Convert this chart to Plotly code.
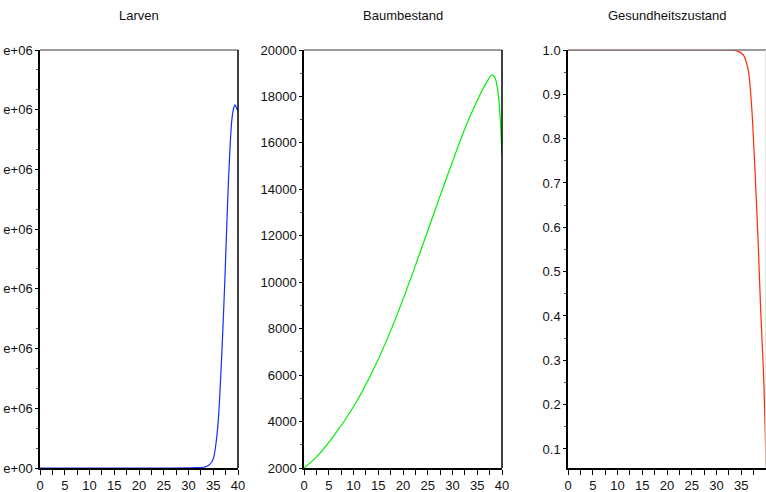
import plotly.graph_objects as go

# Zeitachse (Jahre) und Zustandsgrößen der Simulation
t_larven = [0, 25, 30, 32, 33, 33.7, 34.3, 35.0, 35.5, 36.0, 36.7, 37.4, 38.0, 38.7, 39.1, 39.4, 39.7, 40]
larven = [0, 0, 2e3, 5e3, 1.2e4, 3e4, 6e4, 1.5e5, 3.8e5, 7.8e5, 1.86e6, 3.27e6, 4.66e6, 5.78e6, 6.02e6, 6.08e6, 6.03e6, 5.98e6]

t_baum = [0, 2.6, 5.9, 10, 13.3, 16.7, 19.4, 22.1, 24.8, 27.5, 30.2, 32.9, 35.6, 37.0, 37.9, 38.5, 38.9, 39.3, 39.6, 39.8, 40]
baum = [2000, 2490, 3348, 4640, 5932, 7496, 8927, 10480, 12100, 13720, 15313, 16825, 18094, 18650, 18923, 18850, 18565, 18000, 17200, 16400, 15500]

t_ges = [0, 30, 33, 34.1, 35.4, 36.4, 37.1, 37.8, 38.4, 38.9, 39.5, 39.8, 40]
gesundheit = [1.0, 1.0, 0.9995, 0.998, 0.989, 0.955, 0.872, 0.722, 0.571, 0.42, 0.27, 0.158, 0.06]

titles = ["Larven", "Baumbestand", "Gesundheitszustand"]

larven_ticks = [0, 1e6, 2e6, 3e6, 4e6, 5e6, 6e6, 7e6]
larven_ticktext = ["e+00"] + ["e+06"] * 7
baum_ticks = list(range(2000, 20001, 2000))
baum_ticktext = [str(v) for v in baum_ticks]
ges_ticks = [0.1, 0.2, 0.3, 0.4, 0.5, 0.6, 0.7, 0.8, 0.9, 1.0]
ges_ticktext = ["0.1", "0.2", "0.3", "0.4", "0.5", "0.6", "0.7", "0.8", "0.9", "1.0"]
x_ticks = [0, 5, 10, 15, 20, 25, 30, 35, 40]
x_ticks_last = [0, 5, 10, 15, 20, 25, 30, 35]

W, H = 766, 492
FONT = "Liberation Sans, Arial, Helvetica, sans-serif"

# Panel-Grenzen in Pixeln
panels = [(40, 238), (304, 502), (568, 766)]
top_px, bottom_px = 50, 468
ydom = [(H - bottom_px) / H, (H - top_px) / H]

fig = go.Figure()

fig.add_trace(go.Scatter(x=t_larven, y=larven, mode="lines", xaxis="x", yaxis="y",
                         line=dict(color="#1030ff", width=1.2, shape="spline", smoothing=0.8)))
fig.add_trace(go.Scatter(x=t_baum, y=baum, mode="lines", xaxis="x2", yaxis="y2",
                         line=dict(color="#00ee00", width=1.2, shape="spline", smoothing=0.8)))
fig.add_trace(go.Scatter(x=t_ges, y=gesundheit, mode="lines", xaxis="x3", yaxis="y3",
                         line=dict(color="#ff2a00", width=1.2, shape="spline", smoothing=0.8)))


def xaxis_cfg(i, dom, tickvals):
    return dict(
        domain=[dom[0] / W, dom[1] / W], anchor="y" if i == 1 else f"y{i}",
        range=[0, 40], tickmode="array", tickvals=tickvals,
        ticktext=[str(v) for v in tickvals],
        ticks="outside", ticklen=5, tickwidth=1, tickcolor="#000",
        showline=True, linecolor="#000", linewidth=1.5,
        showgrid=False, zeroline=False, fixedrange=True, automargin=False,
        tickfont=dict(family=FONT, size=13, color="#111"),
        minor=dict(tickvals=[2.5, 7.5, 12.5, 17.5, 22.5, 27.5, 32.5, 37.5],
                   ticks="outside", ticklen=5, tickcolor="#000", tickwidth=1),
    )


def yaxis_cfg(i, rng, tickvals, ticktext, minor_vals):
    return dict(
        domain=ydom, anchor="x" if i == 1 else f"x{i}",
        range=rng, tickmode="array", tickvals=tickvals, ticktext=ticktext,
        ticks="outside", ticklen=3, tickwidth=1, tickcolor="#000",
        showline=True, linecolor="#000", linewidth=1.5,
        showgrid=False, zeroline=False, fixedrange=True, automargin=False,
        tickfont=dict(family=FONT, size=13, color="#111"),
        minor=dict(tickvals=minor_vals, ticks="outside", ticklen=2,
                   tickcolor="#555", tickwidth=1),
    )


larven_minor = [k * 1e6 / 3 for k in range(22) if k % 3 != 0]
baum_minor = list(range(3000, 20000, 2000))
ges_minor = [0.05 + 0.1 * k for k in range(10)]

fig.update_layout(
    width=W, height=H, autosize=False,
    margin=dict(l=0, r=0, t=0, b=0, pad=0, autoexpand=False),
    paper_bgcolor="white", plot_bgcolor="white",
    showlegend=False,
    font=dict(family=FONT, size=13, color="#111"),
    xaxis=xaxis_cfg(1, panels[0], x_ticks),
    xaxis2=xaxis_cfg(2, panels[1], x_ticks),
    xaxis3=xaxis_cfg(3, panels[2], x_ticks_last),
    yaxis=yaxis_cfg(1, [0, 7e6], larven_ticks, larven_ticktext, larven_minor),
    yaxis2=yaxis_cfg(2, [2000, 20000], baum_ticks, baum_ticktext, baum_minor),
    yaxis3=yaxis_cfg(3, [0.057, 1.0], ges_ticks, ges_ticktext, ges_minor),
)

shapes = []
annotations = []
for k, (x0, x1) in enumerate(panels):
    xa = "x" if k == 0 else f"x{k + 1}"
    ya = "y" if k == 0 else f"y{k + 1}"
    # obere Rahmenlinie (grau)
    shapes.append(dict(type="line", xref=f"{xa} domain", yref=f"{ya} domain",
                       x0=0, x1=1, y0=1, y1=1, line=dict(color="#7a7a7a", width=1.5)))
    # rechte Rahmenlinie
    shapes.append(dict(type="line", xref=f"{xa} domain", yref=f"{ya} domain",
                       x0=1, x1=1, y0=0, y1=1,
                       line=dict(color="#000" if k < 2 else "#dddddd", width=1.5)))
    annotations.append(dict(text=titles[k], xref="paper", yref="paper",
                            x=(x0 + x1) / 2 / W, y=(H - 16) / H,
                            xanchor="center", yanchor="middle", showarrow=False,
                            font=dict(family=FONT, size=13, color="#111")))

fig.update_layout(shapes=shapes, annotations=annotations)

fig.write_html("out.html")
